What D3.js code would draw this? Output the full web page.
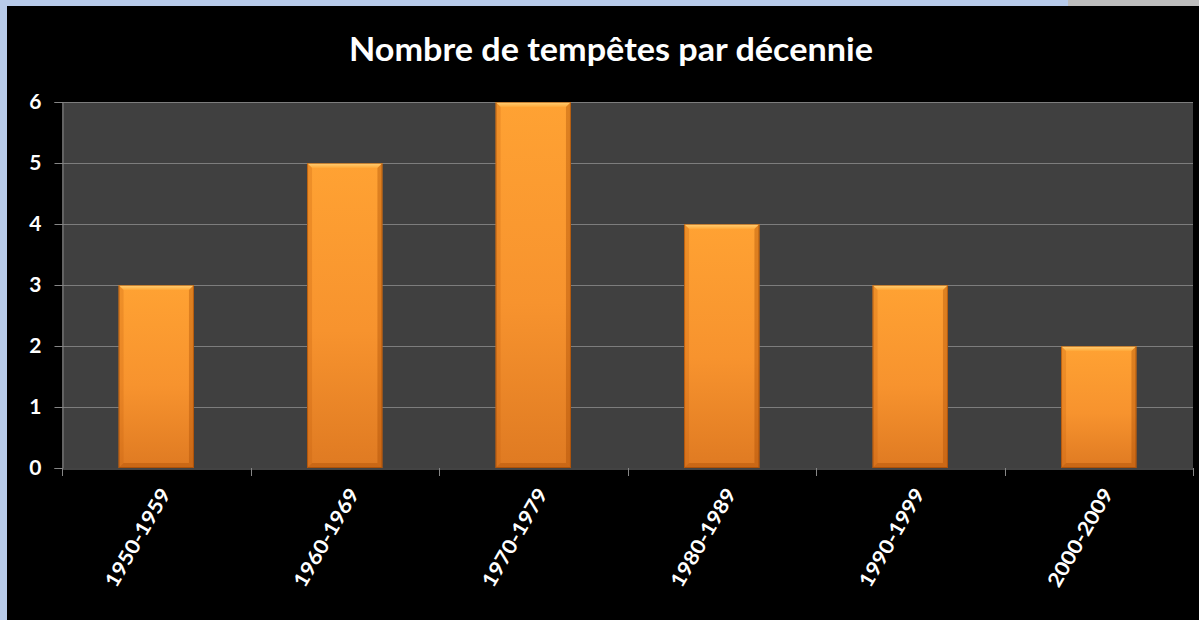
<!DOCTYPE html>
<html>
<head>
<meta charset="utf-8">
<script src="https://cdn.jsdelivr.net/npm/d3@7"></script>
<style>
  html, body { margin: 0; padding: 0; background: #b8cbea; }
  #chart { width: 1199px; height: 620px; }
</style>
</head>
<body>
<div id="chart"></div>
<script>
// data
const decades = ['1950-1959', '1960-1969', '1970-1979', '1980-1989', '1990-1999', '2000-2009'];
const storms = [3, 5, 6, 4, 3, 2];
const yTicks = [0, 1, 2, 3, 4, 5, 6];
const title = 'Nombre de tempêtes par décennie';

const width = 1199, height = 620;
const plot = { left: 62, right: 1193, top: 102, bottom: 468 };
const font = 'Lato, "Open Sans", sans-serif';

const svg = d3.select('#chart')
  .append('svg')
  .attr('width', width)
  .attr('height', height)
  .attr('font-family', font);

const defs = svg.append('defs');

// slide background bits around the black chart box
svg.append('rect').attr('width', width).attr('height', height).attr('fill', '#b8cbea');
svg.append('rect').attr('x', 1068).attr('y', 0).attr('width', width - 1068).attr('height', 6).attr('fill', '#bdbdbd');
svg.append('rect').attr('x', 7).attr('y', 6).attr('width', width - 7).attr('height', height - 6).attr('fill', '#000');

const x = d3.scaleBand()
  .domain(decades)
  .range([plot.left, plot.right])
  .paddingInner(0.6)
  .paddingOuter(0.3);

const xb = d3.scaleBand().domain(decades).range([plot.left, plot.right]); // category boundaries

const y = d3.scaleLinear().domain([0, 6]).range([plot.bottom, plot.top]);

// plot area
svg.append('rect')
  .attr('x', plot.left).attr('y', plot.top)
  .attr('width', plot.right - plot.left).attr('height', plot.bottom - plot.top)
  .attr('fill', '#404040');

// gridlines
svg.append('g')
  .selectAll('line')
  .data(yTicks.filter(d => d > 0))
  .join('line')
  .attr('x1', plot.left).attr('x2', plot.right)
  .attr('y1', d => y(d) + 0.5).attr('y2', d => y(d) + 0.5)
  .attr('stroke', '#7d7d7d').attr('stroke-width', 1);

// gradients for bars
const gMain = defs.append('linearGradient').attr('id', 'barGrad').attr('x1', 0).attr('y1', 0).attr('x2', 0).attr('y2', 1);
gMain.append('stop').attr('offset', '0%').attr('stop-color', '#ffa233');
gMain.append('stop').attr('offset', '55%').attr('stop-color', '#f7932e');
gMain.append('stop').attr('offset', '100%').attr('stop-color', '#df7a22');

const gTop = defs.append('linearGradient').attr('id', 'topGrad').attr('x1', 0).attr('y1', 0).attr('x2', 0).attr('y2', 1);
gTop.append('stop').attr('offset', '0%').attr('stop-color', '#ffd27a');
gTop.append('stop').attr('offset', '100%').attr('stop-color', '#ffa838');

const bw = x.bandwidth();
const bev = 5;

const bars = svg.append('g')
  .selectAll('g')
  .data(decades.map((d, i) => ({ label: d, value: storms[i] })))
  .join('g')
  .attr('transform', d => `translate(${x(d.label)},${y(d.value)})`);

bars.append('rect')
  .attr('width', bw)
  .attr('height', d => y(0) - y(d.value))
  .attr('fill', 'url(#barGrad)');

// bevel: top highlight
bars.append('path')
  .attr('d', `M0,0 L${bw},0 L${bw - bev},${bev} L${bev},${bev} Z`)
  .attr('fill', 'url(#topGrad)');

// bevel: left, right, bottom shading
bars.append('path')
  .attr('d', d => { const h = y(0) - y(d.value); return `M0,0 L${bev},${bev} L${bev},${h - bev} L0,${h} Z`; })
  .attr('fill', 'rgba(190,90,10,0.25)');
bars.append('path')
  .attr('d', d => { const h = y(0) - y(d.value); return `M${bw},0 L${bw - bev},${bev} L${bw - bev},${h - bev} L${bw},${h} Z`; })
  .attr('fill', 'rgba(160,70,0,0.35)');
bars.append('path')
  .attr('d', d => { const h = y(0) - y(d.value); return `M0,${h} L${bev},${h - bev} L${bw - bev},${h - bev} L${bw},${h} Z`; })
  .attr('fill', 'rgba(160,70,0,0.35)');
bars.append('rect')
  .attr('x', 0.5).attr('y', 0.5)
  .attr('width', bw - 1)
  .attr('height', d => y(0) - y(d.value) - 1)
  .attr('fill', 'none')
  .attr('stroke', 'rgba(150,65,0,0.55)');

// y axis
const yAxis = svg.append('g')
  .attr('transform', `translate(${plot.left + 0.5},0)`)
  .call(d3.axisLeft(y).tickValues(yTicks).tickSize(8).tickPadding(13).tickFormat(d3.format('d')));
yAxis.select('.domain').attr('stroke', '#868686');
yAxis.selectAll('.tick line').attr('stroke', '#868686');
yAxis.selectAll('.tick text')
  .attr('fill', '#fff')
  .attr('font-family', font)
  .attr('font-weight', 'bold')
  .attr('font-size', 21);

// x axis
const xAxis = svg.append('g')
  .attr('transform', `translate(0,${plot.bottom + 0.5})`)
  .call(d3.axisBottom(x).tickSize(0).tickFormat(''));
xAxis.select('.domain').attr('stroke', '#868686');
xAxis.selectAll('.tick').remove();

svg.append('g')
  .selectAll('line')
  .data(decades.map(d => xb(d)).concat([plot.right]))
  .join('line')
  .attr('x1', d => Math.round(d) + 0.5).attr('x2', d => Math.round(d) + 0.5)
  .attr('y1', plot.bottom).attr('y2', plot.bottom + 8)
  .attr('stroke', '#868686');

svg.append('g')
  .selectAll('text')
  .data(decades)
  .join('text')
  .attr('transform', d => `translate(${x(d) + bw / 2 + 9},${plot.bottom + 22}) rotate(-60)`)
  .attr('text-anchor', 'end')
  .attr('dy', '0.35em')
  .attr('fill', '#fff')
  .attr('font-weight', 'bold')
  .attr('font-size', 20)
  .attr('textLength', 110)
  .attr('lengthAdjust', 'spacingAndGlyphs')
  .text(d => d);

// title
svg.append('text')
  .attr('x', 611)
  .attr('y', 61)
  .attr('text-anchor', 'middle')
  .attr('fill', '#fff')
  .attr('font-weight', 'bold')
  .attr('font-size', 32)
  .attr('textLength', 524)
  .attr('lengthAdjust', 'spacingAndGlyphs')
  .text(title);
</script>
</body>
</html>
